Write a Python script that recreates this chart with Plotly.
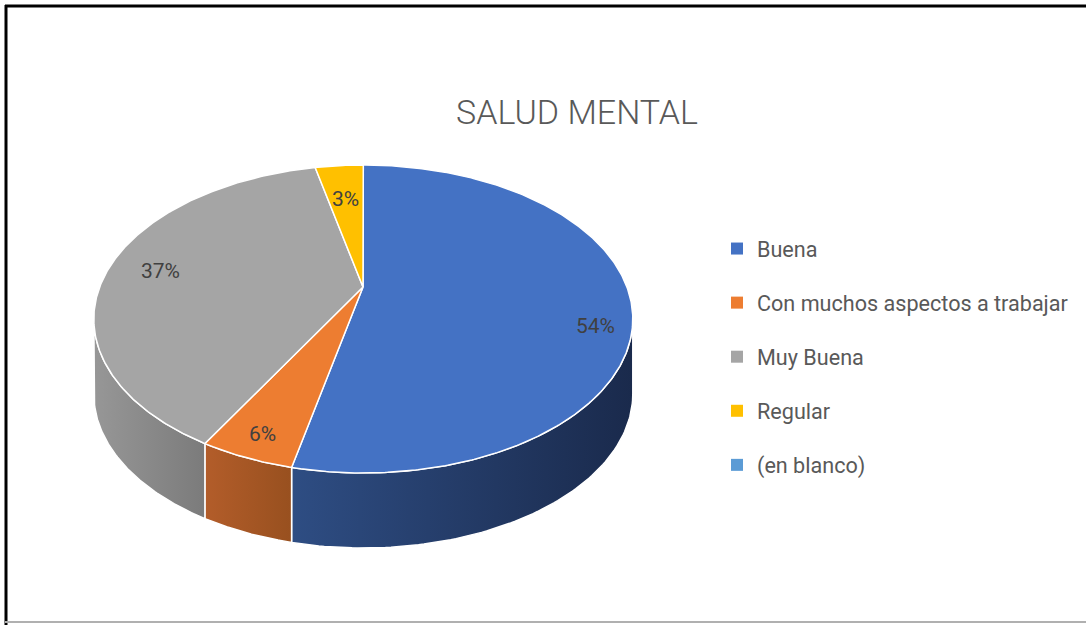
import numpy as np
import plotly.graph_objects as go

# ---------------- data ----------------
categories = ["Buena", "Con muchos aspectos a trabajar", "Muy Buena", "Regular", "(en blanco)"]
counts = [19, 2, 13, 1, 0]
title_text = "SALUD MENTAL"

# ---------------- styles ----------------
top_colors = ["#4472C4", "#ED7D31", "#A5A5A5", "#FFC000", "#5B9BD5"]
side_colors = [("#2e4d83", "#1a2a4c"), ("#b35d2a", "#98501f"),
               ("#979797", "#7b7b7b"), ("#d9a300", "#bf9000"), ("#4a80b2", "#3a6a95")]
label_nudge = [-2.7, 0.0, 7.1, 0.0, 0.0]     # degrees
label_rfrac = [0.864, 0.86, 0.80, 0.725, 0.7]

W, H = 1086, 625
CX, CY = 363.3, 319        # centre of the top ellipse
A, B = 269.5, 154          # ellipse radii
VX, VY = 363, 287          # point where the slices meet
DEPTH = 75
FONT = "Roboto, 'Open Sans', sans-serif"


def rim(theta_deg):
    t = np.radians(theta_deg)
    return CX + A * np.sin(t), CY - B * np.cos(t)


def inner(theta_deg, r):
    ex, ey = rim(theta_deg)
    return VX + r * (ex - VX), VY + r * (ey - VY)


total = sum(counts)
angles = np.cumsum([0] + [c / total * 360 for c in counts])
vis0, vis1 = 90.0, 270.0

fig = go.Figure()

# sides (drawn first)
for i, c in enumerate(counts):
    a, b = angles[i], angles[i + 1]
    s, e = max(a, vis0), min(b, vis1)
    if c == 0 or s >= e:
        continue
    th = np.linspace(s, e, 90)
    xs, ys = rim(th)
    px = np.concatenate([xs, xs[::-1], xs[:1]])
    py = np.concatenate([ys, ys[::-1] + DEPTH, ys[:1]])
    fig.add_trace(go.Scatter(
        x=px, y=py, mode="lines", fill="toself",
        fillgradient=dict(type="horizontal", start=float(xs.min()), stop=float(xs.max()),
                          colorscale=[[0, side_colors[i][0]], [1, side_colors[i][1]]]),
        line=dict(color="white", width=1.5), showlegend=False, hoverinfo="skip"))

# tops
for i, c in enumerate(counts):
    if c == 0:
        continue
    a, b = angles[i], angles[i + 1]
    th = np.linspace(a, b, max(10, int((b - a) * 2)))
    xs, ys = rim(th)
    px = np.concatenate([[VX], xs, [VX]])
    py = np.concatenate([[VY], ys, [VY]])
    fig.add_trace(go.Scatter(
        x=px, y=py, mode="lines", fill="toself", fillcolor=top_colors[i],
        line=dict(color="white", width=1.5), showlegend=False,
        hoveron="fills", name=categories[i],
        text=f"{categories[i]}: {c}", hoverinfo="text"))

# data labels
for i, c in enumerate(counts):
    if c == 0:
        continue
    mid = (angles[i] + angles[i + 1]) / 2 + label_nudge[i]
    lx, ly = inner(mid, label_rfrac[i])
    fig.add_annotation(x=lx, y=ly, xref="x", yref="y", showarrow=False,
                       text=f"{round(c / total * 100)}%",
                       font=dict(family=FONT, size=21, color="#404040"))

# legend entries
for i, cat in enumerate(categories):
    fig.add_trace(go.Scatter(
        x=[None], y=[None], mode="markers", name=cat, legendgroup=f"g{i}",
        marker=dict(symbol="square", size=8, color=top_colors[i])))

# border
fig.add_shape(type="line", x0=5, x1=W, y0=6, y1=6, xref="x", yref="y",
              line=dict(color="black", width=3))
fig.add_shape(type="line", x0=6, x1=6, y0=5, y1=H, xref="x", yref="y",
              line=dict(color="black", width=3))
fig.add_shape(type="line", x0=5, x1=W, y0=622, y1=622, xref="x", yref="y",
              line=dict(color="#b0b0b0", width=2))

fig.update_layout(
    width=W, height=H,
    margin=dict(l=0, r=0, t=0, b=0, pad=0),
    paper_bgcolor="white", plot_bgcolor="white",
    xaxis=dict(range=[0, W], visible=False, fixedrange=True),
    yaxis=dict(range=[H, 0], visible=False, fixedrange=True),
    title=dict(text=title_text, x=577 / W, y=1 - 112 / H, xanchor="center", yanchor="middle",
               xref="paper", yref="paper",
               font=dict(family=FONT, size=34, color="#595959", weight=300)),
    legend=dict(x=717 / W, y=1 - 228 / H, xanchor="left", yanchor="top",
                font=dict(family=FONT, size=21.6, color="#595959"),
                tracegroupgap=23, bgcolor="rgba(0,0,0,0)", itemsizing="constant"),
    showlegend=True,
)

fig.write_html("out.html", config={"displayModeBar": False},
               post_script="document.body.style.margin='0px';")
